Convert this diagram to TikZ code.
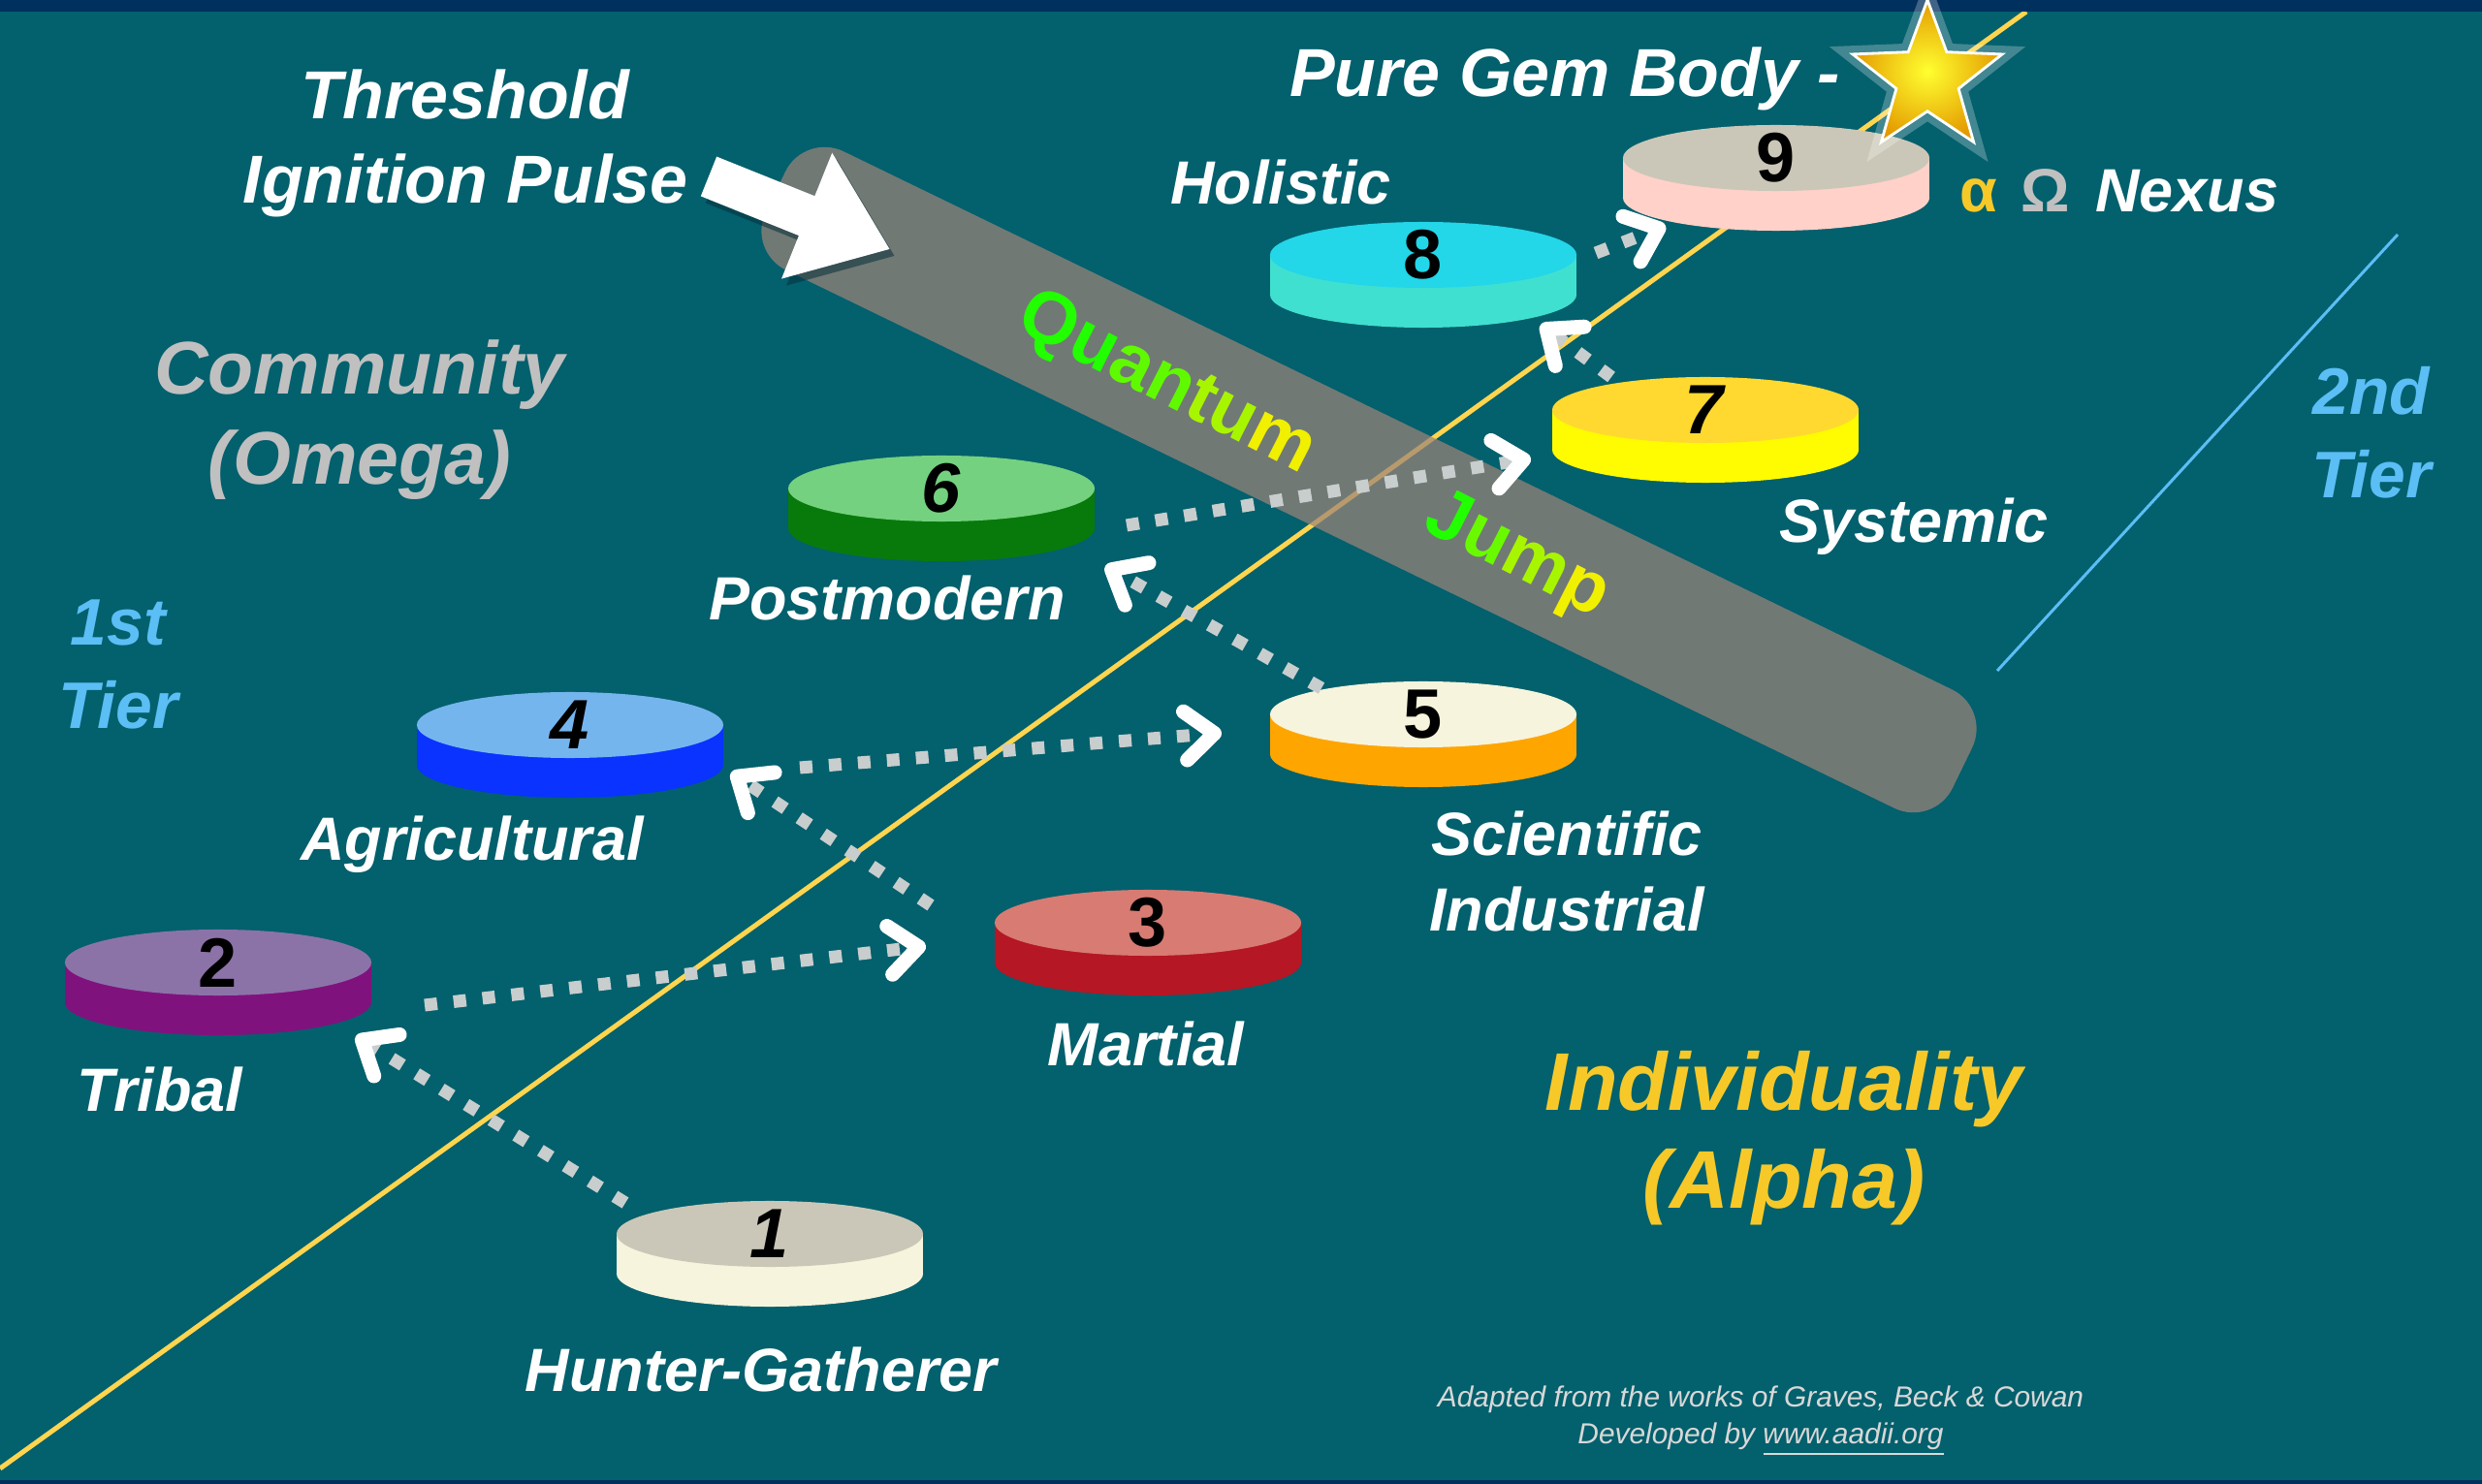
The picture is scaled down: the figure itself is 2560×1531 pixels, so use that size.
\documentclass[tikz,border=0pt]{standalone}
\usepackage{fontspec}
\setmainfont{Liberation Sans}
\usetikzlibrary{arrows.meta,shapes.geometric,calc}

\definecolor{bgteal}{HTML}{03606D}
\definecolor{navyband}{HTML}{00305E}
\definecolor{spineyellow}{HTML}{FFD54F}
\definecolor{tierblue}{HTML}{5BBEF5}
\definecolor{bandgray}{HTML}{9C8479}
\definecolor{flowgray}{HTML}{C8CDCD}
\definecolor{shadowtone}{HTML}{06303A}
\definecolor{omegagrey}{HTML}{C0C0C0}
\definecolor{alphagold}{HTML}{F7C928}
\definecolor{footgrey}{HTML}{D8D8D8}
\definecolor{qgreen}{HTML}{22FF00}
\definecolor{qyellow}{HTML}{F0F000}
\definecolor{staryellow}{HTML}{FFFF30}
\definecolor{starorange}{HTML}{E49A00}
\definecolor{disc1top}{HTML}{CBC7B8}\definecolor{disc1side}{HTML}{F6F4DC}
\definecolor{disc2top}{HTML}{8B73A8}\definecolor{disc2side}{HTML}{80127E}
\definecolor{disc3top}{HTML}{D77B73}\definecolor{disc3side}{HTML}{B51724}
\definecolor{disc4top}{HTML}{75B5EE}\definecolor{disc4side}{HTML}{0A33FF}
\definecolor{disc5top}{HTML}{F6F4DC}\definecolor{disc5side}{HTML}{FFA500}
\definecolor{disc6top}{HTML}{74D17F}\definecolor{disc6side}{HTML}{087A0B}
\definecolor{disc7top}{HTML}{FFD92F}\definecolor{disc7side}{HTML}{FFFB00}
\definecolor{disc8top}{HTML}{23D6E8}\definecolor{disc8side}{HTML}{40E0D0}
\definecolor{disc9top}{HTML}{CBC7B8}\definecolor{disc9side}{HTML}{FFD1C9}

\tikzset{
  stagelabel/.style={text=white, inner sep=0pt, anchor=base, align=center,
    font=\bfseries\itshape\fontsize{17.9}{21.9}\selectfont},
  headline/.style={stagelabel, font=\bfseries\itshape\fontsize{19.9}{24.8}\selectfont},
  tierlabel/.style={stagelabel, text=tierblue, font=\bfseries\itshape\fontsize{19.3}{24.6}\selectfont},
  discnum/.style={inner sep=0pt, text=black, font=\bfseries\fontsize{20.5}{24}\selectfont},
  jumpword/.style={inner sep=0pt, rotate=-27, font=\bfseries\fontsize{21.6}{26}\selectfont},
  jumpflow/.style={draw=flowgray, line width=0.13cm, dash pattern=on 0.13cm off 0.17cm,
    -{Straight Barb[length=0.3cm, width=0.5cm, line width=0.15cm, round, color=white]}},
}

\begin{document}
\begin{tikzpicture}[x=0.01cm, y=-0.01cm]
\useasboundingbox (0,0) rectangle (2560,1531);
\fill[bgteal] (0,0) rectangle (2560,1531);

% axis lines
\draw[spineyellow, line width=0.05cm] (0,1515) -- (2090,12);
\draw[tierblue, line width=0.03cm] (2060,692) -- (2473,242);
\fill[navyband] (0,0) rectangle (2560,12);
\fill[navyband] (0,1527) rectangle (2560,1531);

% the nine stages
\foreach \n/\x/\y/\tp/\sd/\num in {
    1/794/1273/disc1top/disc1side/\textit{1},
    2/225/993/disc2top/disc2side/2,
    3/1184/952/disc3top/disc3side/3,
    4/588/748/disc4top/disc4side/\textit{4},
    5/1468/737/disc5top/disc5side/5,
    6/971/504/disc6top/disc6side/\textit{6},
    7/1759/423/disc7top/disc7side/\textit{7},
    8/1468/263/disc8top/disc8side/8,
    9/1832/163/disc9top/disc9side/9}{
  \fill[\sd] (\x,\y+41) ellipse[x radius=1.58cm, y radius=0.34cm];
  \fill[\sd] (\x-158,\y) rectangle (\x+158,\y+41);
  \fill[\tp] (\x,\y) ellipse[x radius=1.58cm, y radius=0.34cm];
  \node[discnum] (d\n) at (\x,\y) {\num};
}

% quantum jump band
\node[fill=bandgray, fill opacity=0.72, rounded corners=0.45cm, rotate=-25.9,
  minimum width=13.6cm, minimum height=1.36cm, inner sep=0pt] (band) at (1412,495) {};
\node[jumpword] (quantum) at (1203,397) {\textcolor{qgreen}{Qu}\textcolor{qgreen!70!qyellow}{an}\textcolor{qgreen!35!qyellow}{tu}\textcolor{qyellow}{m}};
\node[jumpword] (jump) at (1564,575) {\textcolor{qgreen}{J}\textcolor{qgreen!65!qyellow}{u}\textcolor{qgreen!35!qyellow}{m}\textcolor{qyellow}{p}};

% ignition pointer
\begin{scope}[shift={(736,189)}, rotate=-21.9]
  \fill[shadowtone, opacity=0.55] (0,-22) -- (109,-22) -- (109,-70) -- (201,0) -- (109,70) -- (109,22) -- (0,22) -- cycle;
\end{scope}
\begin{scope}[shift={(731,182)}, rotate=-21.9]
  \fill[white] (0,-22) -- (109,-22) -- (109,-70) -- (201,0) -- (109,70) -- (109,22) -- (0,22) -- cycle;
\end{scope}

% transitions
\draw[jumpflow] ($(d1)+(-149,-32)$) -- ($(d2)+(142,76)$);
\draw[jumpflow] ($(d2)+(213,44)$) -- ($(d3)+(-229,24)$);
\draw[jumpflow] ($(d3)+(-224,-18)$) -- ($(d4)+(166,49)$);
\draw[jumpflow] ($(d4)+(237,44)$) -- ($(d5)+(-208,19)$);
\draw[jumpflow] ($(d5)+(-105,-27)$) -- ($(d6)+(169,80)$);
\draw[jumpflow] ($(d6)+(191,38)$) -- ($(d7)+(-180,50)$);
\draw[jumpflow] ($(d7)+(-97,-34)$) -- ($(d8)+(121,72)$);
\draw[jumpflow] ($(d8)+(178,-2)$) -- ($(d9)+(-114,70)$);

% stage names
\node[stagelabel] (hunter) at (785,1435) {Hunter-Gatherer};
\node[stagelabel] (tribal) at (165,1146) {Tribal};
\node[stagelabel] (martial) at (1182,1099) {Martial};
\node[stagelabel] (agri) at (487,887) {Agricultural};
\node[stagelabel] (scind) at (1616,960) {Scientific\\Industrial};
\node[stagelabel] (postmod) at (915,640) {Postmodern};
\node[stagelabel] (systemic) at (1974,560) {Systemic};
\node[stagelabel] (holistic) at (1321,211) {Holistic};
\node[stagelabel, anchor=base west] (nexus) at (2021,219) {\textcolor{alphagold}{\upshape α}\hspace{0.38em}\textcolor{omegagrey}{\upshape Ω}\hspace{0.42em}Nexus};

\node[headline] (threshold) at (480,210) {Threshold\\Ignition Pulse};
\node[headline] (gem) at (1614,100) {Pure Gem Body -};
\node[star, star points=5, star point ratio=2.4, minimum size=1.62cm, inner sep=0pt,
  draw=white, line width=0.8pt, shading=radial, inner color=staryellow, outer color=starorange,
  preaction={draw=white, line width=5pt, opacity=0.25}] (star) at (1988,81) {};

\node[stagelabel, text=omegagrey, font=\bfseries\itshape\fontsize{21.9}{26.5}\selectfont] (community) at (371,500) {Community\\(Omega)};
\node[tierlabel] (tier1) at (122,752) {1st\\Tier};
\node[tierlabel] (tier2) at (2446,514) {2nd\\Tier};
\node[stagelabel, text=alphagold, font=\bfseries\itshape\fontsize{24}{28.5}\selectfont] (individ) at (1840,1246) {Individuality\\(Alpha)};

\node[stagelabel, text=footgrey, font=\itshape\fontsize{8.5}{10.8}\selectfont] (credit) at (1816,1489) {Adapted from the works of Graves, Beck \& Cowan\\Developed by \underline{www.aadii.org}};
\end{tikzpicture}
\end{document}
